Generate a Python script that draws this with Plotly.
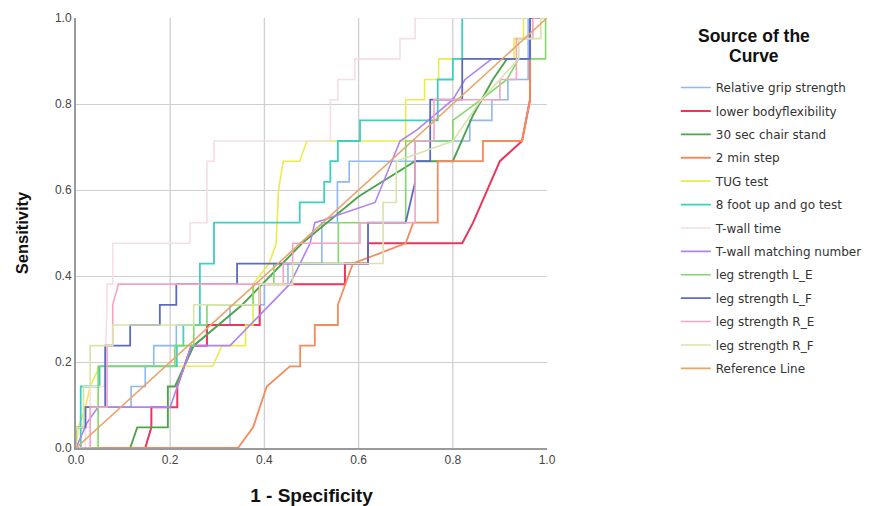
import plotly.graph_objects as go

# ---- data (1 - specificity, sensitivity) ----
grip_x = [0, 0, 0.02, 0.02, 0.117, 0.117, 0.147, 0.147, 0.165, 0.165, 0.213, 0.213, 0.327, 0.327, 0.40, 0.40, 0.45, 0.45, 0.522, 0.522, 0.555, 0.555, 0.58, 0.58, 0.72, 0.72, 0.836, 0.836, 0.883, 0.883, 0.917, 0.917, 0.96, 0.96, 1.0]
grip_y = [0, 0.048, 0.048, 0.095, 0.095, 0.143, 0.143, 0.190, 0.190, 0.238, 0.238, 0.286, 0.286, 0.333, 0.333, 0.381, 0.381, 0.429, 0.429, 0.524, 0.524, 0.619, 0.619, 0.667, 0.667, 0.714, 0.714, 0.762, 0.762, 0.810, 0.810, 0.857, 0.857, 1.0, 1.0]

flex_x = [0, 0.147, 0.16, 0.16, 0.215, 0.215, 0.245, 0.278, 0.278, 0.39, 0.39, 0.571, 0.571, 0.62, 0.62, 0.82, 0.843, 0.90, 0.947, 0.955, 0.964, 0.964, 1.0]
flex_y = [0, 0, 0.048, 0.095, 0.095, 0.143, 0.238, 0.238, 0.286, 0.286, 0.381, 0.381, 0.429, 0.429, 0.476, 0.476, 0.524, 0.667, 0.714, 0.762, 0.810, 1.0, 1.0]

chair_x = [0, 0.115, 0.13, 0.195, 0.195, 0.21, 0.25, 0.35, 0.48, 0.60, 0.72, 0.80, 0.843, 0.885, 0.915, 0.964, 0.964, 1.0]
chair_y = [0, 0, 0.048, 0.048, 0.143, 0.143, 0.238, 0.330, 0.476, 0.585, 0.667, 0.667, 0.774, 0.857, 0.905, 0.905, 1.0, 1.0]

step_x = [0, 0.344, 0.376, 0.405, 0.454, 0.476, 0.476, 0.507, 0.507, 0.556, 0.556, 0.588, 0.70, 0.716, 0.768, 0.768, 0.864, 0.864, 0.947, 0.955, 0.964, 0.964, 1.0]
step_y = [0, 0, 0.048, 0.143, 0.190, 0.190, 0.238, 0.238, 0.286, 0.286, 0.333, 0.429, 0.476, 0.524, 0.524, 0.667, 0.667, 0.714, 0.714, 0.762, 0.810, 1.0, 1.0]

tug_x = [0, 0.005, 0.02, 0.03, 0.05, 0.29, 0.31, 0.36, 0.36, 0.376, 0.376, 0.41, 0.425, 0.43, 0.44, 0.475, 0.49, 0.70, 0.70, 0.74, 0.74, 0.77, 0.77, 0.93, 0.93, 0.95, 0.95, 1.0]
tug_y = [0, 0.048, 0.095, 0.143, 0.190, 0.190, 0.238, 0.238, 0.286, 0.286, 0.381, 0.429, 0.476, 0.600, 0.667, 0.667, 0.714, 0.714, 0.810, 0.810, 0.857, 0.857, 0.905, 0.905, 0.952, 0.952, 1.0, 1.0]

foot_x = [0, 0.01, 0.01, 0.05, 0.05, 0.214, 0.214, 0.228, 0.228, 0.263, 0.263, 0.293, 0.293, 0.475, 0.475, 0.527, 0.527, 0.54, 0.54, 0.556, 0.556, 0.603, 0.603, 0.768, 0.768, 0.80, 0.80, 0.82, 0.82, 1.0]
foot_y = [0, 0, 0.143, 0.143, 0.190, 0.190, 0.238, 0.238, 0.286, 0.286, 0.429, 0.429, 0.524, 0.524, 0.571, 0.571, 0.619, 0.619, 0.667, 0.667, 0.714, 0.714, 0.762, 0.762, 0.857, 0.857, 0.905, 0.905, 1.0, 1.0]

twt_x = [0, 0.02, 0.02, 0.03, 0.03, 0.06, 0.066, 0.066, 0.078, 0.078, 0.242, 0.242, 0.278, 0.278, 0.293, 0.293, 0.54, 0.54, 0.556, 0.556, 0.592, 0.592, 0.688, 0.688, 0.72, 0.72, 1.0]
twt_y = [0, 0, 0.048, 0.048, 0.143, 0.143, 0.333, 0.381, 0.381, 0.476, 0.476, 0.524, 0.524, 0.667, 0.667, 0.714, 0.714, 0.810, 0.810, 0.857, 0.857, 0.905, 0.905, 0.952, 0.952, 1.0, 1.0]

twm_x = [0, 0.023, 0.047, 0.2, 0.245, 0.327, 0.454, 0.497, 0.507, 0.525, 0.635, 0.688, 0.724, 0.80, 0.826, 0.883, 0.964, 0.964, 1.0]
twm_y = [0, 0.058, 0.095, 0.095, 0.238, 0.238, 0.381, 0.476, 0.524, 0.530, 0.571, 0.714, 0.740, 0.810, 0.857, 0.905, 0.905, 1.0, 1.0]

le_x = [0, 0.047, 0.047, 0.21, 0.21, 0.25, 0.25, 0.278, 0.278, 0.376, 0.376, 0.42, 0.42, 0.557, 0.557, 0.70, 0.70, 0.80, 0.80, 0.86, 0.915, 0.94, 0.997, 0.997, 1.0]
le_y = [0, 0, 0.190, 0.190, 0.238, 0.238, 0.286, 0.286, 0.333, 0.333, 0.381, 0.381, 0.429, 0.429, 0.524, 0.524, 0.714, 0.714, 0.762, 0.810, 0.857, 0.905, 0.905, 1.0, 1.0]

lf_x = [0, 0, 0.02, 0.02, 0.062, 0.062, 0.115, 0.115, 0.178, 0.178, 0.213, 0.213, 0.342, 0.342, 0.62, 0.62, 0.70, 0.72, 0.72, 0.752, 0.752, 0.82, 0.82, 0.964, 0.964, 1.0]
lf_y = [0, 0.048, 0.048, 0.095, 0.095, 0.238, 0.238, 0.286, 0.286, 0.333, 0.333, 0.381, 0.381, 0.429, 0.429, 0.524, 0.524, 0.619, 0.667, 0.667, 0.810, 0.810, 0.905, 0.905, 1.0, 1.0]

re_x = [0, 0.03, 0.03, 0.066, 0.066, 0.078, 0.078, 0.09, 0.44, 0.44, 0.46, 0.46, 0.603, 0.603, 0.72, 0.72, 0.76, 0.76, 0.90, 0.90, 0.935, 0.935, 0.97, 0.97, 1.0]
re_y = [0, 0, 0.095, 0.095, 0.238, 0.238, 0.333, 0.381, 0.381, 0.429, 0.429, 0.476, 0.476, 0.524, 0.524, 0.714, 0.714, 0.810, 0.810, 0.857, 0.857, 0.952, 0.952, 1.0, 1.0]

rf_x = [0, 0, 0.016, 0.016, 0.03, 0.03, 0.078, 0.078, 0.25, 0.25, 0.39, 0.39, 0.46, 0.46, 0.652, 0.652, 0.68, 0.68, 0.80, 0.86, 0.90, 0.94, 0.94, 0.987, 0.987, 1.0]
rf_y = [0, 0.048, 0.048, 0.143, 0.143, 0.238, 0.238, 0.286, 0.286, 0.333, 0.333, 0.381, 0.381, 0.429, 0.429, 0.571, 0.571, 0.667, 0.714, 0.810, 0.857, 0.905, 0.952, 0.952, 1.0, 1.0]

ref_x = [0, 1]
ref_y = [0, 1]

names = ["Relative grip strength", "lower bodyflexibility", "30 sec chair stand", "2 min step",
         "TUG test", "8 foot up and go test", "T-wall time", "T-wall matching number",
         "leg strength L_E", "leg strength L_F", "leg strength R_E", "leg strength R_F",
         "Reference Line"]
colors = ["#8db8f0", "#e8365d", "#4ea34e", "#f48b5c", "#ebeb4a", "#3ecfbf", "#f6dde6",
          "#b083f0", "#80d86a", "#5a6cc0", "#f5a3c3", "#d9e3aa", "#e9a46a"]
xs = [grip_x, flex_x, chair_x, step_x, tug_x, foot_x, twt_x, twm_x, le_x, lf_x, re_x, rf_x, ref_x]
ys = [grip_y, flex_y, chair_y, step_y, tug_y, foot_y, twt_y, twm_y, le_y, lf_y, re_y, rf_y, ref_y]
widths = [1.6, 2.0, 1.9, 1.8, 1.6, 1.8, 1.6, 1.6, 1.6, 1.8, 1.6, 1.6, 1.6]

ticks = [0, 0.2, 0.4, 0.6, 0.8, 1.0]
tick_text = ["0.0", "0.2", "0.4", "0.6", "0.8", "1.0"]
legend_title_lines = ["Source of the", "Curve"]

fig = go.Figure()
for i, (n, c, x, y, w) in enumerate(zip(names, colors, xs, ys, widths)):
    fig.add_trace(go.Scatter(x=x, y=y, mode="lines", name=n, legendgroup=f"g{i}",
                             line=dict(color=c, width=w)))

axis_common = dict(range=[0, 1], tickvals=ticks, ticktext=tick_text,
                   showline=True, linecolor="#9a9a9a", linewidth=2, zeroline=False,
                   ticks="", automargin=False,
                   tickfont=dict(size=12, color="#444444", family="Liberation Sans"))

# vertical grid lines (no line at the right edge, as in the reference)
for t in ticks[1:-1]:
    fig.add_shape(type="line", xref="x", yref="paper", x0=t, x1=t, y0=0, y1=1,
                  line=dict(color="#cfcfcf", width=1.3), layer="below")

# the page body has an 8 px margin, so the figure is 8 px smaller than the window
fig.update_layout(
    width=869, height=498,
    margin=dict(l=68, r=330, t=10, b=58, autoexpand=False),
    paper_bgcolor="white", plot_bgcolor="white",
    font=dict(family="Liberation Sans", color="#222222"),
    xaxis=dict(**axis_common, showgrid=False,
               title=dict(text="<b>1 - Specificity</b>", font=dict(size=19, color="#111111"), standoff=22)),
    yaxis=dict(**axis_common, showgrid=True, gridcolor="#cfcfcf", gridwidth=1.3,
               title=dict(text="<b>Sensitivity</b>", font=dict(size=16.5, color="#111111"), standoff=22)),
    legend=dict(x=1.2735, y=0.872, xanchor="left", yanchor="top",
                font=dict(size=12, color="#333333", family="DejaVu Sans"),
                tracegroupgap=4.4, itemwidth=30, bgcolor="rgba(0,0,0,0)"),
    showlegend=True,
)

# legend heading (two lines, centred like the reference); positions in plot-area pixels
for line_text, ypx in zip(legend_title_lines, [36, 56]):
    fig.add_annotation(text=f"<b>{line_text}</b>", xref="paper", yref="paper",
                       x=(754 - 76) / 471, y=(448 - ypx) / 430, xanchor="center", yanchor="middle",
                       showarrow=False, font=dict(size=17.5, color="#111111", family="Liberation Sans"))

fig.write_html("out.html")
